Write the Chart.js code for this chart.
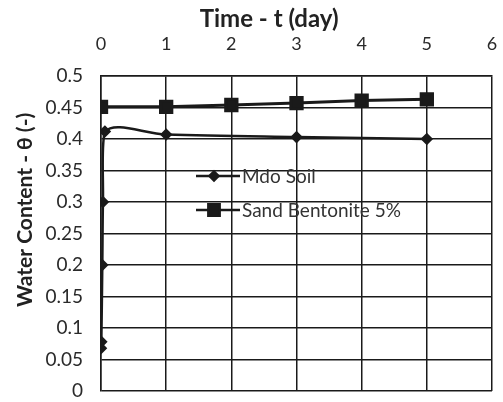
<!DOCTYPE html>
<html>
<head>
<meta charset="utf-8">
<script src="https://cdn.jsdelivr.net/npm/chart.js@4/dist/chart.umd.min.js"></script>
<style>
  html, body { margin: 0; padding: 0; background: #fff; overflow: hidden; }
  #wrap { width: 503px; height: 402px; }
  canvas { display: block; }
</style>
</head>
<body>
<div id="wrap"><canvas id="chartCanvas" width="503" height="402"></canvas></div>
<script>
// Mdo Soil: time (day) and water content
const mdoTime = [0, 0.005, 0.02, 0.03, 0.06, 1, 3, 5];
const mdoTheta = [0.068, 0.078, 0.2, 0.3, 0.412, 0.407, 0.403, 0.4];

// Sand Bentonite 5%
const sandTime = [0, 1, 2, 3, 4, 5];
const sandTheta = [0.451, 0.451, 0.454, 0.457, 0.461, 0.463];

const xTicks = [0, 1, 2, 3, 4, 5, 6];
const yTicks = [0, 0.05, 0.1, 0.15, 0.2, 0.25, 0.3, 0.35, 0.4, 0.45, 0.5];

const xTitle = "Time - t (day)";
const yTitle = "Water Content - θ (-)";

const ink = "#1a1a1a";
const font = "Lato, 'Open Sans', sans-serif";

function toPoints(xs, ys) {
  return xs.map((x, i) => ({ x, y: ys[i] }));
}

// axis titles sit a bit off-centre in the original, so draw them here
const axisTitles = {
  id: "axisTitles",
  afterDraw(chart) {
    const { ctx, chartArea: a } = chart;
    ctx.save();
    ctx.fillStyle = "#222";
    ctx.textAlign = "center";
    ctx.textBaseline = "alphabetic";
    ctx.font = "bold 24px " + font;
    ctx.fillText(xTitle, a.left + (a.right - a.left) * 0.43, 27);
    ctx.translate(32, a.top + (a.bottom - a.top) * 0.425);
    ctx.rotate(-Math.PI / 2);
    ctx.font = "bold 21px " + font;
    ctx.fillText(yTitle, 0, 0);
    ctx.restore();
  }
};

// legend drawn inside the plot, over the grid
const innerLegend = {
  id: "innerLegend",
  afterDatasetsDraw(chart) {
    const { ctx, chartArea } = chart;
    const x0 = chartArea.left + 95;
    const rows = [
      { y: chartArea.top + 100, ds: chart.data.datasets[0] },
      { y: chartArea.top + 134, ds: chart.data.datasets[1] }
    ];
    ctx.save();
    rows.forEach(r => {
      ctx.strokeStyle = ink;
      ctx.lineWidth = 2.5;
      ctx.beginPath();
      ctx.moveTo(x0, r.y);
      ctx.lineTo(x0 + 44, r.y);
      ctx.stroke();
      ctx.fillStyle = ink;
      Chart.helpers.drawPoint(ctx, {
        pointStyle: r.ds.pointStyle,
        radius: r.ds.pointRadius,
        rotation: 0,
        borderWidth: 1
      }, x0 + 18, r.y);
      ctx.fillStyle = "#333";
      ctx.font = "19px " + font;
      ctx.textBaseline = "middle";
      ctx.fillText(r.ds.label, x0 + 46, r.y + 1);
    });
    ctx.restore();
  }
};

new Chart(document.getElementById("chartCanvas"), {
  type: "line",
  data: {
    datasets: [{
      label: "Mdo Soil",
      data: toPoints(mdoTime, mdoTheta),
      borderColor: ink,
      backgroundColor: ink,
      borderWidth: 2.5,
      pointStyle: "rectRot",
      pointRadius: 4.5,
      tension: 0.35
    }, {
      label: "Sand Bentonite 5%",
      data: toPoints(sandTime, sandTheta),
      borderColor: ink,
      backgroundColor: ink,
      borderWidth: 3,
      pointStyle: "rect",
      pointRadius: 8,
      tension: 0
    }]
  },
  options: {
    responsive: false,
    animation: false,
    layout: { padding: { left: 0, right: 10, top: 0, bottom: 9 } },
    plugins: {
      legend: { display: false },
      tooltip: { enabled: false }
    },
    scales: {
      x: {
        type: "linear",
        position: "top",
        min: 0,
        max: 6,
        afterBuildTicks: s => { s.ticks = xTicks.map(v => ({ value: v })); },
        afterFit: s => { s.height = 76; s.paddingLeft = 0; s.paddingRight = 0; },
        grid: { color: ink, lineWidth: 1.5, drawTicks: false },
        border: { color: ink, width: 1.5 },
        ticks: { color: "#2a2a2a", padding: 21, font: { family: font, size: 18 } }
      },
      y: {
        min: 0,
        max: 0.5,
        afterBuildTicks: s => { s.ticks = yTicks.map(v => ({ value: v })); },
        afterFit: s => { s.width = 101; s.paddingTop = 0; s.paddingBottom = 0; },
        grid: { color: ink, lineWidth: 1.5, drawTicks: false },
        border: { color: ink, width: 1.5 },
        ticks: {
          color: "#2a2a2a",
          padding: 18,
          font: { family: font, size: 19 },
          callback: v => String(Math.round(v * 100) / 100)
        }
      }
    }
  },
  plugins: [innerLegend, axisTitles]
});
</script>
</body>
</html>
